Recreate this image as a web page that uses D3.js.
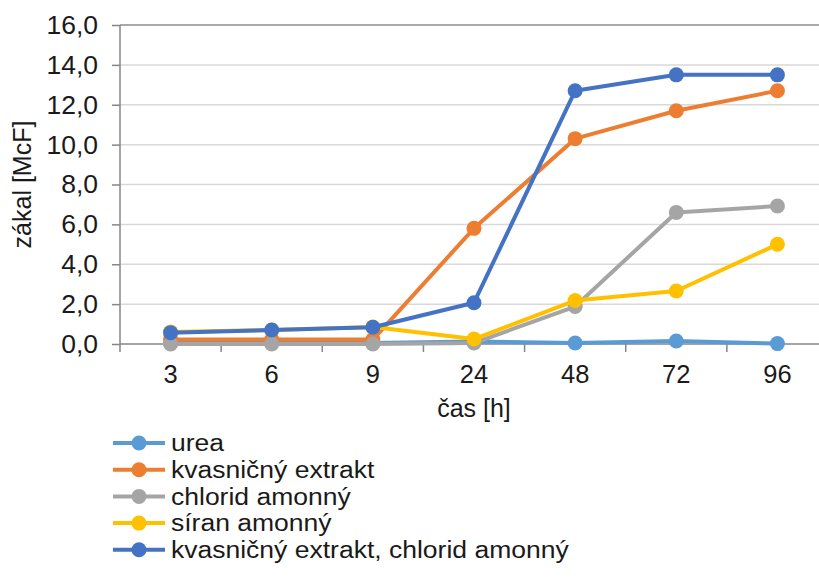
<!DOCTYPE html>
<html><head><meta charset="utf-8">
<script src="https://cdn.jsdelivr.net/npm/d3@7"></script>
<style>body{margin:0;background:#fff}svg{display:block}text{font-family:"Liberation Sans",Arial,sans-serif;fill:#1a1a1a}</style>
</head><body><svg id="c" width="819" height="581"></svg>
<script>
const categories = ["3","6","9","24","48","72","96"];
const seriesNames = ["urea","kvasničný extrakt","chlorid amonný","síran amonný","kvasničný extrakt, chlorid amonný"];
const urea = [0.05,0.05,0.05,0.12,0.05,0.15,0.02];
const kvasnicny = [0.22,0.22,0.22,5.8,10.3,11.7,12.7];
const chlorid = [0.0,0.0,0.0,0.05,1.88,6.6,6.92];
const siran = [0.6,0.7,0.85,0.25,2.18,2.66,5.0];
const kvasChlorid = [0.57,0.7,0.84,2.07,12.7,13.5,13.5];
const yTicks = [0,2,4,6,8,10,12,14,16];
const colors = ["#5B9BD5","#ED7D31","#A5A5A5","#FFC000","#4472C4"];

const allSeries = [urea,kvasnicny,chlorid,siran,kvasChlorid];
const svg = d3.select("#c");
const x = d3.scaleBand().domain(categories).range([120,828]);
const y = d3.scaleLinear().domain([0,16]).range([344,25]);
const fmt = v => v.toFixed(1).replace(".", ",");

// gridlines
svg.append("g").selectAll("line").data(yTicks.filter(t=>t>0)).join("line")
  .attr("x1",120).attr("x2",819).attr("y1",d=>y(d)).attr("y2",d=>y(d))
  .attr("stroke",d=>d===16?"#8c8c8c":"#d9d9d9").attr("stroke-width",1.5);

// y axis
const ya = svg.append("g").attr("transform","translate(120,0)")
  .call(d3.axisLeft(y).tickValues(yTicks).tickFormat(fmt).tickSize(8).tickPadding(14));
ya.select(".domain").attr("stroke","#868686").attr("stroke-width",1.5).attr("d","M0,25V352");
ya.selectAll(".tick line").attr("stroke","#868686").attr("stroke-width",1.5);
ya.selectAll(".tick text").attr("font-size",26.5).attr("font-family","Liberation Sans, Arial, sans-serif").attr("fill","#1a1a1a");

// x axis
const xa = svg.append("g").attr("transform","translate(0,344)")
  .call(d3.axisBottom(x).tickSize(0).tickPadding(21));
xa.select(".domain").attr("stroke","#868686").attr("stroke-width",1.5).attr("d","M120,0H819");
xa.selectAll(".tick text").attr("font-size",25.5).attr("font-family","Liberation Sans, Arial, sans-serif").attr("fill","#1a1a1a");
svg.append("g").selectAll("line").data(categories.slice(1)).join("line")
  .attr("x1",d=>x(d)).attr("x2",d=>x(d)).attr("y1",344).attr("y2",352)
  .attr("stroke","#868686").attr("stroke-width",1.5);

// axis titles
svg.append("text").attr("x",(x.range()[0]+x.range()[1])/2).attr("y",417).attr("text-anchor","middle")
  .attr("font-size",25).text("čas [h]");
svg.append("text").attr("transform",`translate(31,${(y(0)+y(16))/2}) rotate(-90)`).attr("text-anchor","middle")
  .attr("font-size",25).text("zákal [McF]");

// series
const line = d3.line().x((d,i)=>x(categories[i])+x.bandwidth()/2).y(d=>y(d));
allSeries.forEach((s,k)=>{
  const g = svg.append("g");
  g.append("path").datum(s).attr("d",line).attr("fill","none").attr("stroke",colors[k])
    .attr("stroke-width",4).attr("stroke-linejoin","round");
  g.selectAll("circle").data(s).join("circle")
    .attr("cx",(d,i)=>x(categories[i])+x.bandwidth()/2).attr("cy",d=>y(d)).attr("r",7.5)
    .attr("fill",colors[k]);
});

// legend
const lg = svg.append("g");
seriesNames.forEach((n,k)=>{
  const yy = 443 + k*26.7;
  lg.append("line").attr("x1",113).attr("x2",165).attr("y1",yy).attr("y2",yy).attr("stroke",colors[k]).attr("stroke-width",4);
  lg.append("circle").attr("cx",139).attr("cy",yy).attr("r",7.5).attr("fill",colors[k]);
  const t = lg.append("text").attr("x",171).attr("y",yy).attr("dy","0.36em").attr("font-size",23).text(n);
  const len = t.node().getComputedTextLength();
  t.attr("textLength", len*26.5/23).attr("lengthAdjust","spacingAndGlyphs");
});
</script></body></html>
